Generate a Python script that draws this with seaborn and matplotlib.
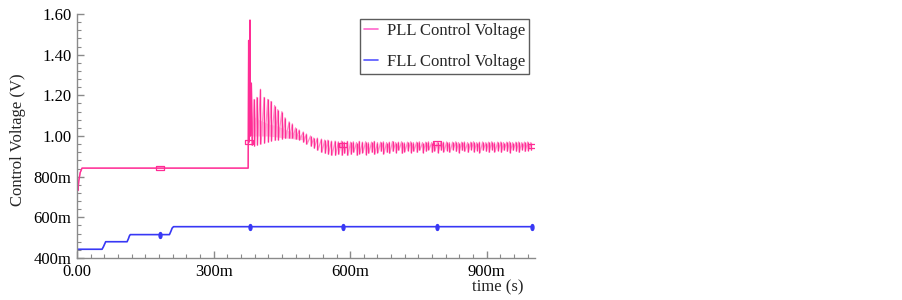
import pandas as pd
import seaborn as sns
import matplotlib.pyplot as plt
from matplotlib.lines import Line2D
from matplotlib.markers import MarkerStyle
from matplotlib.transforms import Affine2D
from matplotlib.ticker import MultipleLocator, FuncFormatter

# PLL control voltage: start-up transient, flat lock level and the step at ~376 ms
pll_t = [0.0, 0.0, 0.001, 0.002, 0.004, 0.007, 0.011, 0.376, 0.377, 0.378, 0.380, 0.381, 0.383, 0.385]
pll_v = [0.857, 0.80, 0.745, 0.732, 0.78, 0.82, 0.842, 0.842, 1.47, 0.97, 1.57, 1.00, 1.26, 0.955]

# PLL ringing after the step: one entry per cycle (peak / trough)
osc_t = [0.389, 0.395, 0.403, 0.411, 0.419, 0.426, 0.434, 0.441, 0.450, 0.457,
         0.466, 0.473, 0.480, 0.488, 0.497, 0.504, 0.513, 0.520, 0.528, 0.537,
         0.544, 0.551, 0.559, 0.567, 0.574, 0.581, 0.587, 0.594, 0.601, 0.607,
         0.614, 0.620, 0.627, 0.634, 0.640, 0.647, 0.653, 0.660, 0.667, 0.673,
         0.680, 0.686, 0.693, 0.700, 0.706, 0.713, 0.719, 0.726, 0.733, 0.739,
         0.746, 0.752, 0.759, 0.766, 0.772, 0.779, 0.785, 0.792, 0.799, 0.805,
         0.812, 0.818, 0.825, 0.832, 0.838, 0.845, 0.851, 0.858, 0.865, 0.871,
         0.878, 0.884, 0.891, 0.898, 0.904, 0.911, 0.917, 0.924, 0.931, 0.937,
         0.944, 0.950, 0.957, 0.964, 0.970, 0.977, 0.983, 0.990, 0.997]
osc_hi = [1.18, 1.19, 1.23, 1.19, 1.18, 1.17, 1.15, 1.13, 1.12, 1.09,
          1.07, 1.06, 1.04, 1.03, 1.02, 1.01, 1.00, 0.99, 0.99, 0.985,
          0.98, 0.98, 0.975, 0.975, 0.972, 0.975, 0.97, 0.974, 0.97, 0.972,
          0.968, 0.974, 0.97, 0.972, 0.968, 0.97, 0.974, 0.968, 0.97, 0.972,
          0.968, 0.97, 0.973, 0.968, 0.97, 0.972, 0.967, 0.97, 0.972, 0.968,
          0.97, 0.972, 0.968, 0.97, 0.972, 0.968, 0.97, 0.972, 0.968, 0.97,
          0.971, 0.968, 0.97, 0.972, 0.968, 0.97, 0.971, 0.968, 0.97, 0.972,
          0.968, 0.97, 0.971, 0.968, 0.97, 0.972, 0.968, 0.97, 0.971, 0.968,
          0.97, 0.972, 0.968, 0.97, 0.971, 0.968, 0.97, 0.971, 0.968]
osc_lo = [0.95, 0.955, 0.96, 0.965, 0.97, 0.975, 0.978, 0.98, 0.985, 0.988,
          0.99, 0.99, 0.985, 0.98, 0.97, 0.96, 0.95, 0.94, 0.93, 0.92,
          0.915, 0.91, 0.905, 0.905, 0.91, 0.905, 0.915, 0.905, 0.91, 0.92,
          0.905, 0.912, 0.918, 0.908, 0.915, 0.92, 0.91, 0.918, 0.925, 0.912,
          0.92, 0.915, 0.925, 0.918, 0.93, 0.915, 0.922, 0.928, 0.918, 0.925,
          0.92, 0.93, 0.918, 0.925, 0.932, 0.92, 0.926, 0.918, 0.93, 0.922,
          0.928, 0.92, 0.932, 0.924, 0.918, 0.93, 0.925, 0.92, 0.932, 0.922,
          0.928, 0.918, 0.93, 0.925, 0.92, 0.932, 0.922, 0.928, 0.92, 0.93,
          0.924, 0.918, 0.93, 0.925, 0.92, 0.932, 0.924, 0.928, 0.93]

# light pink band of the first ringing cycles
band_t = [0.385, 0.40, 0.42, 0.44, 0.46, 0.48, 0.50]
band_hi = [1.10, 1.08, 1.06, 1.05, 1.03, 1.01, 1.00]
band_lo = [1.00, 1.00, 1.00, 0.995, 0.99, 0.985, 0.98]

# FLL control voltage: three coarse steps
fll_t = [0.0, 0.055, 0.058, 0.061, 0.063, 0.110, 0.113, 0.115, 0.117,
         0.203, 0.206, 0.209, 0.212, 1.0]
fll_v = [0.443, 0.443, 0.455, 0.470, 0.480, 0.480, 0.495, 0.508, 0.515,
         0.515, 0.530, 0.547, 0.554, 0.554]

# simulator marker symbols
pll_mark_t = [0.182, 0.378, 0.585, 0.790, 1.0]
pll_mark_v = [0.842, 0.970, 0.955, 0.965, 0.952]
fll_mark_t = [0.182, 0.380, 0.585, 0.790, 1.0]
fll_mark_v = [0.515, 0.554, 0.554, 0.554, 0.554]

legend_labels = ["PLL Control Voltage", "FLL Control Voltage"]

PINK = "#ff2d95"
PINK_LIGHT = "#ff8cc6"
BLUE = "#3838f5"
GRAY = "#8a8a8a"


def x_fmt(v, pos):
    return "0.00" if abs(v) < 1e-9 else f"{v * 1000:.0f}m"


def y_fmt(v, pos):
    return f"{v:.2f}" if v >= 0.999 else f"{v * 1000:.0f}m"


def main():
    sns.set_style("white")
    plt.rcParams["font.family"] = ["Liberation Serif", "DejaVu Serif"]
    plt.rcParams["font.size"] = 12

    fig = plt.figure(figsize=(9.03, 3.0), dpi=100)
    ax = fig.add_axes([77 / 903, 1 - 258 / 300, 458 / 903, 244 / 300])

    ax.fill_between(band_t, band_lo, band_hi, color=PINK_LIGHT, alpha=0.6, lw=0)

    # ringing part as a zigzag (light) plus one dark stroke per cycle
    zz_t, zz_v = [], []
    for t, hi, lo in zip(osc_t, osc_hi, osc_lo):
        zz_t += [t, t + 0.0012]
        zz_v += [hi, lo]
    pll_df = pd.DataFrame({"t": pll_t + zz_t, "v": pll_v + zz_v})
    sns.lineplot(data=pll_df, x="t", y="v", ax=ax, color=PINK_LIGHT, lw=0.9,
                 sort=False, estimator=None)
    start_df = pd.DataFrame({"t": pll_t, "v": pll_v})
    sns.lineplot(data=start_df, x="t", y="v", ax=ax, color=PINK, lw=1.0,
                 sort=False, estimator=None)
    ax.vlines(osc_t, osc_lo, osc_hi, color=PINK, lw=0.9)

    fll_df = pd.DataFrame({"t": fll_t, "v": fll_v})
    sns.lineplot(data=fll_df, x="t", y="v", ax=ax, color=BLUE, lw=1.2,
                 sort=False, estimator=None)

    rect = MarkerStyle("s", fillstyle="none", transform=Affine2D().scale(1.0, 0.45))
    oval = MarkerStyle("o", transform=Affine2D().scale(0.5, 1.0))
    ax.scatter(pll_mark_t, pll_mark_v, marker=rect, s=32, color=PINK, lw=0.9, zorder=4)
    ax.scatter(fll_mark_t, fll_mark_v, marker=oval, s=18, color=BLUE, zorder=4)

    ax.set_xlim(0, 1.006)
    ax.set_ylim(0.4, 1.6)
    ax.xaxis.set_major_locator(MultipleLocator(0.3))
    ax.xaxis.set_minor_locator(MultipleLocator(0.03))
    ax.yaxis.set_major_locator(MultipleLocator(0.2))
    ax.yaxis.set_minor_locator(MultipleLocator(0.04))
    ax.xaxis.set_major_formatter(FuncFormatter(x_fmt))
    ax.yaxis.set_major_formatter(FuncFormatter(y_fmt))
    ax.tick_params(which="both", direction="in", color=GRAY, labelcolor="black",
                   labelsize=12, pad=4, bottom=True, left=True)
    ax.tick_params(which="major", length=5, width=1)
    ax.tick_params(which="minor", length=3, width=0.8)
    for side in ["top", "right"]:
        ax.spines[side].set_visible(False)
    for side in ["left", "bottom"]:
        ax.spines[side].set_color(GRAY)
        ax.spines[side].set_linewidth(1.0)
    ax.set_xlabel("")
    ax.set_ylabel("")

    fig.text(18 / 903, 1 - 140 / 300, "Control Voltage (V)", rotation=90,
             ha="center", va="center", fontsize=12)
    fig.text(498 / 903, 1 - 287 / 300, "time (s)", ha="center", va="center",
             fontsize=12)

    handles = [Line2D([], [], color="#ff66cc", lw=1.2),
               Line2D([], [], color="#5555ff", lw=1.2)]
    leg = ax.legend(handles, legend_labels, loc="upper left",
                    bbox_to_anchor=((360 - 77) / 458, (258 - 19) / 244),
                    borderaxespad=0, frameon=True, fancybox=False,
                    handlelength=0.8, handletextpad=0.55, borderpad=0.25,
                    labelspacing=0.9, fontsize=12)
    leg.get_frame().set_edgecolor("#333333")
    leg.get_frame().set_linewidth(1.0)

    fig.savefig("out.png", dpi=100)
    plt.close(fig)


if __name__ == "__main__":
    main()
